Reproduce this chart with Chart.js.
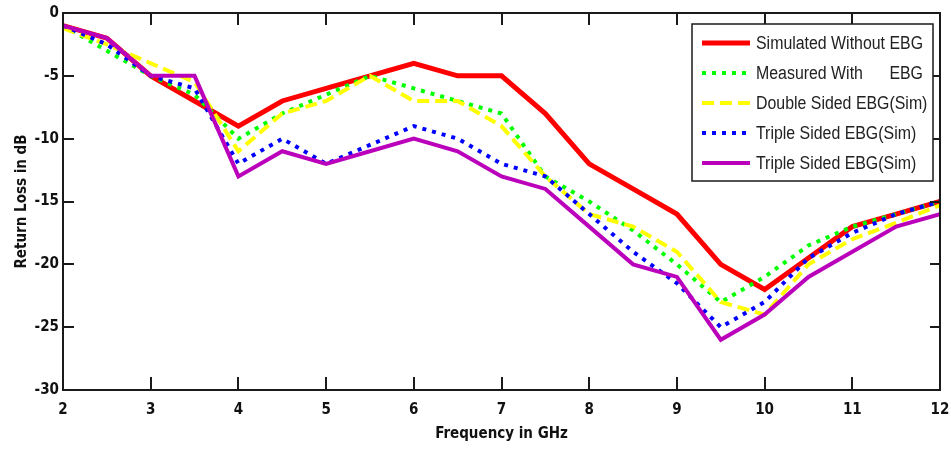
<!DOCTYPE html>
<html>
<head>
<meta charset="utf-8">
<script src="https://cdn.jsdelivr.net/npm/chart.js@4/dist/chart.umd.min.js"></script>
<style>
  html, body { margin: 0; padding: 0; background: #ffffff; }
  #wrap { width: 951px; height: 450px; }
</style>
</head>
<body>
<div id="wrap"><canvas id="c" width="951" height="450"></canvas></div>
<script>
// ---- data ----
const freqGHz = [2, 2.5, 3, 3.5, 4, 4.5, 5, 5.5, 6, 6.5, 7, 7.5, 8, 8.5, 9, 9.5, 10, 10.5, 11, 11.5, 12];
const simWithoutEBG = [-1, -2, -5, -7, -9, -7, -6, -5, -4, -5, -5, -8, -12, -14, -16, -20, -22, -19.5, -17, -16, -15];
const measuredWithEBG = [-1, -3, -5, -6.5, -10, -8, -6.5, -5, -6, -7, -8, -13, -15, -17.3, -20, -23, -21, -18.5, -17, -16, -15];
const doubleSidedEBG = [-1.2, -2.5, -4, -5.5, -11, -8, -7, -5, -7, -7, -9, -13, -16, -17, -19, -23, -24, -20, -18, -16.7, -15.3];
const tripleSidedEBG1 = [-1, -2.5, -5, -6, -12, -10, -12, -10.5, -9, -10, -12, -13, -16, -19, -21.5, -25, -23, -19.5, -17.5, -16, -15];
const tripleSidedEBG2 = [-1, -2, -5, -5, -13, -11, -12, -11, -10, -11, -13, -14, -17, -20, -21, -26, -24, -21, -19, -17, -16];
const seriesNames = ["Simulated Without EBG", "Measured With      EBG", "Double Sided EBG(Sim)", "Triple Sided EBG(Sim)", "Triple Sided EBG(Sim)"];
const xTicks = [2, 3, 4, 5, 6, 7, 8, 9, 10, 11, 12];
const yTicks = [0, -5, -10, -15, -20, -25, -30];
const xTitle = "Frequency in GHz";
const yTitle = "Return Loss in dB";

const toPts = arr => freqGHz.map((f, i) => ({ x: f, y: arr[i] }));

const styles = [
  { color: '#ff0000', width: 5, dash: [] },
  { color: '#00ff00', width: 4, dash: [4, 6] },
  { color: '#ffff00', width: 4, dash: [12, 6] },
  { color: '#0000ff', width: 4, dash: [4, 6] },
  { color: '#bb00bb', width: 4, dash: [] }
];
const allSeries = [simWithoutEBG, measuredWithEBG, doubleSidedEBG, tripleSidedEBG1, tripleSidedEBG2];

const datasets = allSeries.map((arr, i) => ({
  label: seriesNames[i],
  data: toPts(arr),
  borderColor: styles[i].color,
  backgroundColor: styles[i].color,
  borderWidth: styles[i].width,
  borderDash: styles[i].dash,
  pointRadius: 0,
  tension: 0,
  fill: false,
  order: allSeries.length - i
}));

const tickFont = { family: '"Liberation Sans Narrow", "DejaVu Sans Condensed", "Liberation Sans", sans-serif', size: 15, weight: 'bold' };
const titleFont = { family: '"Liberation Sans Narrow", "DejaVu Sans Condensed", "Liberation Sans", sans-serif', size: 15, weight: 'bold' };

const framePlugin = {
  id: 'framePlugin',
  afterDraw(chart) {
    const { ctx, chartArea: a, scales } = chart;
    ctx.save();
    ctx.strokeStyle = '#1a1a1a';
    ctx.lineWidth = 2;
    ctx.setLineDash([]);
    ctx.strokeRect(a.left, a.top, a.right - a.left, a.bottom - a.top);
    ctx.lineWidth = 2;
    ctx.beginPath();
    xTicks.forEach(v => {
      const px = Math.round(scales.x.getPixelForValue(v));
      ctx.moveTo(px, a.bottom); ctx.lineTo(px, a.bottom - 13);
      ctx.moveTo(px, a.top); ctx.lineTo(px, a.top + 12);
    });
    yTicks.forEach(v => {
      const py = Math.round(scales.y.getPixelForValue(v));
      ctx.moveTo(a.left, py); ctx.lineTo(a.left + 11, py);
      ctx.moveTo(a.right, py); ctx.lineTo(a.right - 10, py);
    });
    ctx.stroke();

    // legend box
    const bx = 692, by = 24, bw = 241, bh = 157;
    ctx.fillStyle = '#ffffff';
    ctx.fillRect(bx, by, bw, bh);
    ctx.strokeStyle = '#1a1a1a';
    ctx.lineWidth = 1.5;
    ctx.strokeRect(bx, by, bw, bh);
    ctx.font = '18px "Liberation Sans", Arial, sans-serif';
    const refW = ctx.measureText(seriesNames[0]).width;
    const sx = 167 / refW;
    const rowY = [43, 73, 103, 133, 163];
    chart.data.datasets.forEach((ds, i) => {
      const y = rowY[i];
      ctx.strokeStyle = ds.borderColor;
      ctx.lineWidth = ds.borderWidth;
      ctx.setLineDash(ds.borderDash || []);
      ctx.beginPath();
      ctx.moveTo(702, y); ctx.lineTo(750, y);
      ctx.stroke();
      ctx.setLineDash([]);
      ctx.save();
      ctx.translate(756, y);
      ctx.scale(sx, 1);
      ctx.fillStyle = '#222222';
      ctx.textBaseline = 'middle';
      ctx.textAlign = 'left';
      ctx.fillText(ds.label, 0, 1);
      ctx.restore();
    });
    ctx.restore();
  }
};

new Chart(document.getElementById('c'), {
  type: 'line',
  data: { datasets },
  options: {
    responsive: false,
    animation: false,
    devicePixelRatio: 1,
    layout: { padding: { left: 0, right: 11, top: 13, bottom: 0 } },
    plugins: { legend: { display: false }, tooltip: { enabled: false }, title: { display: false } },
    scales: {
      x: {
        type: 'linear', min: 2, max: 12,
        afterBuildTicks: s => { s.ticks = xTicks.map(v => ({ value: v })); },
        afterFit: s => { s.height = 60; s.paddingRight = 0; s.paddingLeft = 0; },
        ticks: { color: '#111', font: tickFont, padding: 11, maxRotation: 0, callback: v => String(v) },
        grid: { display: false, drawTicks: false },
        border: { display: false },
        title: { display: true, text: xTitle, color: '#111', font: titleFont, padding: { top: 0, bottom: 7 } }
      },
      y: {
        type: 'linear', min: -30, max: 0,
        afterBuildTicks: s => { s.ticks = yTicks.map(v => ({ value: v })); },
        afterFit: s => { s.width = 63; s.paddingTop = 0; s.paddingBottom = 0; },
        ticks: { color: '#111', font: tickFont, padding: 4, callback: v => String(v) },
        grid: { display: false, drawTicks: false },
        border: { display: false },
        title: { display: true, text: yTitle, color: '#111', font: titleFont, padding: { top: 13, bottom: 0 } }
      }
    }
  },
  plugins: [framePlugin]
});
</script>
</body>
</html>
